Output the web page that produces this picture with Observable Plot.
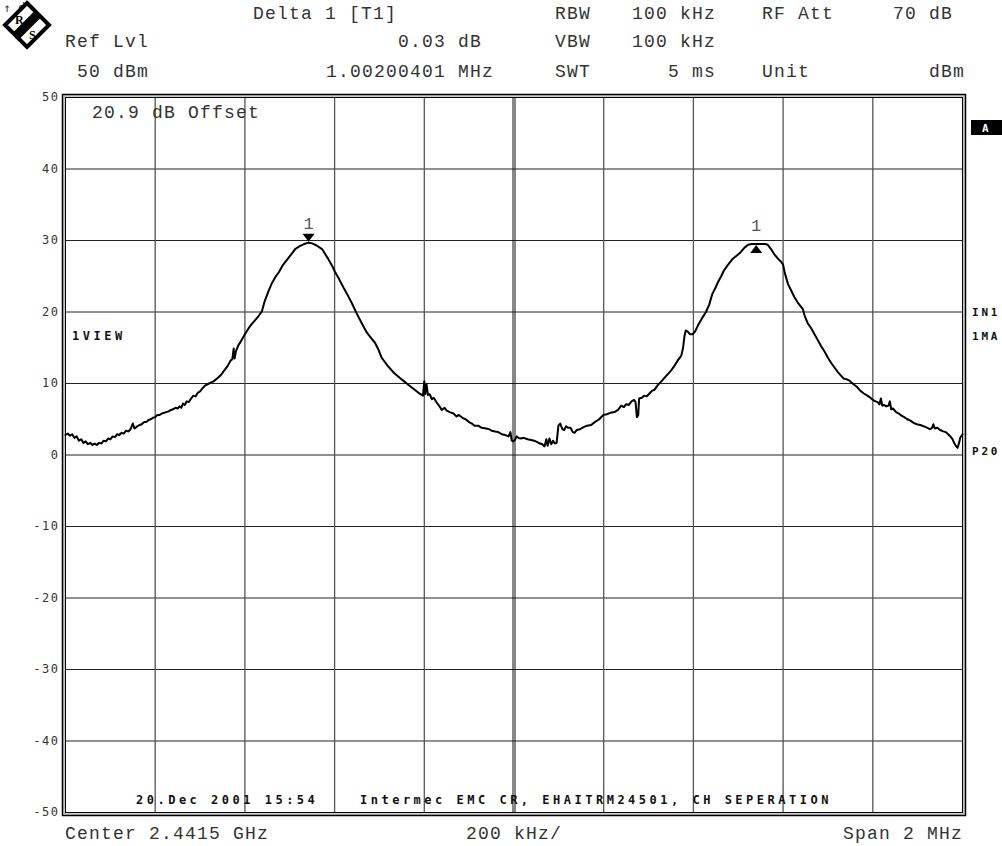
<!DOCTYPE html>
<html><head><meta charset="utf-8">
<script src="https://cdn.jsdelivr.net/npm/d3@7"></script>
<script src="https://cdn.jsdelivr.net/npm/@observablehq/plot@0.6"></script>
<style>
body{margin:0;background:#fff;}
#wrap{position:relative;width:1002px;height:846px;overflow:hidden;background:#fff;}
#chart{position:absolute;left:0;top:0;}
#overlay{position:absolute;left:0;top:0;pointer-events:none;}
.hdr{font-family:"Liberation Mono",monospace;font-size:18px;letter-spacing:1.2px;fill:#333;}
.bm{font-family:"DejaVu Sans Mono",monospace;font-weight:bold;font-size:12px;letter-spacing:3.5px;fill:#111;}
.bs{font-family:"DejaVu Sans Mono",monospace;font-weight:bold;font-size:11px;letter-spacing:2.8px;fill:#111;}
.lgt{font-family:"Liberation Serif",serif;font-weight:bold;font-size:12px;fill:#000;}
#chart [aria-label="y-axis tick label"] text{letter-spacing:1.5px}
</style></head><body><div id="wrap"><div id="chart"></div><svg id="overlay" width="1002" height="846"></svg></div>
<script>
// ---- data ----
const spanKHz = [-1000, 1000];           // center 2.4415 GHz, span 2 MHz
const xGridKHz = [-800, -600, -400, -200, 0, 200, 400, 600, 800];
const yTicks = [-50, -40, -30, -20, -10, 0, 10, 20, 30, 40, 50];
// trace: [offset from center (kHz), level (dBm)]
const trace = [
[-1000,2.8],[-995,3.0],[-990,2.7],[-985,2.9],[-980,2.4],[-975,2.6],[-970,2.0],[-965,2.2],[-960,1.7],[-955,1.9],
[-950,1.5],[-945,1.7],[-940,1.4],[-935,1.6],[-930,1.4],[-925,1.7],[-920,1.6],[-915,2.0],[-910,1.9],[-905,2.3],
[-900,2.2],[-895,2.6],[-890,2.5],[-885,2.9],[-880,2.8],[-875,3.1],[-870,3.0],[-865,3.4],[-860,3.3],[-855,3.6],
[-850,4.4],[-846,3.7],[-840,4.0],[-835,4.2],[-830,4.3],[-825,4.6],[-820,4.6],[-815,4.9],[-810,5.0],[-805,5.2],
[-800,5.3],[-795,5.6],[-790,5.6],[-785,5.8],[-780,5.9],[-775,6.0],[-770,6.1],[-765,6.3],[-760,6.4],[-755,6.6],
[-750,6.5],[-746,6.8],[-742,6.6],[-738,7.2],[-734,7.0],[-730,7.5],[-725,7.4],[-720,7.9],[-715,8.3],[-710,8.2],
[-705,8.7],[-700,8.9],[-695,9.3],[-689,9.7],[-680,10.0],[-670,10.3],[-660,10.8],[-652,11.3],[-645,11.9],[-638,12.5],
[-632,13.2],[-628,13.4],[-625,14.9],[-623,13.5],[-620,14.5],[-615,15.3],[-608,16.0],[-600,16.9],[-592,17.7],[-585,18.3],
[-578,18.8],[-570,19.4],[-562,20.1],[-556,21.5],[-548,22.8],[-540,24.0],[-532,24.9],[-524,25.6],[-515,26.6],[-505,27.4],
[-495,28.2],[-488,28.8],[-478,29.2],[-468,29.5],[-458,29.7],[-450,29.6],[-440,29.3],[-428,28.8],[-415,27.5],[-405,26.4],
[-399,25.6],[-390,24.6],[-380,23.4],[-372,22.5],[-362,21.3],[-350,19.7],[-340,18.5],[-328,17.1],[-318,16.3],[-310,15.7],
[-302,14.7],[-295,13.6],[-282,12.5],[-268,11.5],[-255,10.8],[-245,10.3],[-235,9.8],[-225,9.3],[-213,8.7],[-203,8.3],
[-200,10.3],[-198,8.5],[-195,9.9],[-192,8.4],[-188,8.5],[-183,7.8],[-179,8.0],[-172,7.3],[-166,6.8],[-161,6.3],
[-155,6.6],[-150,6.2],[-143,6.0],[-135,5.8],[-128,5.4],[-123,5.6],[-115,5.2],[-108,5.0],[-100,4.6],[-94,4.4],
[-88,4.1],[-80,4.1],[-72,3.8],[-62,3.7],[-55,3.6],[-50,3.4],[-42,3.3],[-35,3.2],[-27,2.9],[-20,2.8],
[-12,2.6],[-8,3.2],[-5,2.0],[-2,1.9],[2,2.1],[6,2.6],[10,2.4],[15,2.3],[22,2.4],[30,2.2],
[38,2.1],[45,2.0],[52,1.8],[58,1.6],[63,1.5],[68,1.2],[72,2.2],[75,1.3],[79,2.3],[83,1.5],
[87,2.0],[91,1.6],[95,1.7],[99,4.1],[103,4.4],[108,3.6],[112,3.5],[116,4.0],[121,3.8],[126,3.8],
[131,3.2],[135,3.1],[140,3.5],[147,3.6],[155,3.9],[163,4.1],[172,4.2],[180,4.6],[190,5.0],[199,5.6],
[207,5.7],[215,5.9],[224,6.0],[232,6.3],[239,6.9],[245,6.7],[250,7.1],[256,7.0],[262,7.5],[268,7.7],
[271,7.4],[274,5.3],[277,5.6],[279,7.9],[285,8.0],[290,8.3],[296,8.2],[302,8.6],[308,9.0],[313,9.1],
[321,9.8],[330,10.4],[340,11.1],[350,11.8],[358,12.5],[366,13.3],[373,13.9],[377,15.0],[380,16.6],[383,17.4],
[387,17.3],[392,16.9],[398,16.9],[403,17.2],[410,18.1],[418,19.0],[428,20.0],[435,21.0],[442,22.5],[450,23.5],
[455,24.2],[462,25.0],[468,25.8],[477,26.6],[487,27.4],[497,27.9],[506,28.4],[514,29.0],[522,29.4],[530,29.5],
[545,29.5],[560,29.5],[566,29.4],[573,28.8],[580,28.1],[588,27.5],[596,27.0],[600,26.6],[604,25.4],[611,23.9],
[618,23.0],[625,22.1],[634,21.2],[644,20.4],[648,19.5],[655,18.4],[662,17.8],[670,16.9],[677,16.1],[684,15.3],
[692,14.5],[700,13.6],[708,12.8],[715,12.2],[722,11.6],[729,11.1],[735,10.7],[741,10.6],[748,10.4],[757,9.9],
[765,9.5],[772,9.0],[780,8.6],[788,8.3],[795,8.0],[800,7.7],[806,7.5],[811,7.4],[815,7.1],[818,7.9],
[821,6.9],[825,7.0],[830,6.8],[835,6.9],[838,7.5],[841,6.4],[845,6.5],[852,6.0],[858,5.8],[864,5.5],
[870,5.3],[877,5.0],[884,4.8],[891,4.5],[898,4.3],[906,4.2],[914,4.0],[922,3.8],[928,3.6],[932,3.8],
[935,4.3],[938,3.7],[944,3.8],[950,3.5],[957,3.3],[963,3.2],[968,2.9],[973,2.6],[978,2.2],[982,1.6],
[986,1.2],[989,1.0],[992,1.6],[995,2.4],[1000,2.9]
];
const markerKHz = [-458, 540];
const markerDb = [29.7, 29.5];
const markerDir = ["down", "up"];
const markerLabel = ["1", "1"];

// ---- build ----
const traceRows = trace.map(([f, db]) => ({f, db}));
const markers = markerKHz.map((f, i) => ({f, db: markerDb[i], dir: markerDir[i], label: markerLabel[i]}));
const triDown = {draw(ctx){ ctx.moveTo(-6,-4); ctx.lineTo(6,-4); ctx.lineTo(0,4); ctx.closePath(); }};
const triUp = {draw(ctx){ ctx.moveTo(-6,4); ctx.lineTo(6,4); ctx.lineTo(0,-4); ctx.closePath(); }};

const plot = Plot.plot({
  width: 1002, height: 846,
  marginLeft: 65, marginRight: 40, marginTop: 97, marginBottom: 34,
  style: {background: "#fff", fontFamily: "DejaVu Sans Mono"},
  x: {domain: spanKHz, axis: null},
  y: {domain: [yTicks[0], yTicks[yTicks.length - 1]], axis: null},
  marks: [
    Plot.ruleY(yTicks, {stroke: "#222", strokeWidth: 1}),
    Plot.ruleX(xGridKHz.filter(d => d !== 0), {stroke: "#555", strokeWidth: 1.3}),
    Plot.ruleX([0], {stroke: "#111", strokeWidth: 1, dx: -1}),
    Plot.ruleX([0], {stroke: "#111", strokeWidth: 1, dx: 1}),
    Plot.frame({stroke: "#000", strokeWidth: 1}),
    Plot.frame({stroke: "#999", strokeWidth: 1, inset: -1.5}),
    Plot.frame({stroke: "#000", strokeWidth: 1.5, inset: -3}),
    Plot.axisY(yTicks, {tickSize: 0, tickPadding: 6, fontSize: 12, fill: "#333",
      fontFamily: "DejaVu Sans Mono", tickFormat: d => String(d)}),
    Plot.line(traceRows, {x: "f", y: "db", stroke: "#000", strokeWidth: 2}),
    Plot.dot(markers.filter(d => d.dir === "down"), {x: "f", y: "db", symbol: triDown, fill: "#000", stroke: "none", dy: -5}),
    Plot.dot(markers.filter(d => d.dir === "up"), {x: "f", y: "db", symbol: triUp, fill: "#000", stroke: "none", dy: 5}),
    Plot.text(markers, {x: "f", y: "db", text: "label", dy: -19, fontSize: 17,
      fontFamily: "Liberation Mono", fill: "#555", lineAnchor: "middle"})
  ]
});
document.getElementById("chart").appendChild(plot);

// ---- annotations (instrument screen texts) ----
const ov = d3.select("#overlay");
const hdr = [
  ["Delta 1 [T1]", 253, 19], ["RBW", 555, 19], ["100 kHz", 632, 19], ["RF Att", 762, 19], ["70 dB", 893, 19],
  ["Ref Lvl", 65, 47], ["0.03 dB", 398, 47], ["VBW", 555, 47], ["100 kHz", 632, 47],
  ["50 dBm", 77, 77], ["1.00200401 MHz", 326, 77], ["SWT", 555, 77], ["5 ms", 668, 77], ["Unit", 762, 77], ["dBm", 929, 77],
  ["20.9 dB Offset", 92, 118],
  ["Center 2.4415 GHz", 65, 839], ["200 kHz/", 466, 839], ["Span 2 MHz", 843, 839]
];
hdr.forEach(([t, x, y]) => ov.append("text").attr("class", "hdr").attr("x", x).attr("y", y).text(t));
const bm = [["20.Dec 2001 15:54", 136, 804], ["Intermec EMC CR, EHAITRM24501, CH SEPERATION", 360, 804], ["1VIEW", 72, 340]];
bm.forEach(([t, x, y]) => ov.append("text").attr("class", "bm").attr("x", x).attr("y", y).text(t));
const bs = [["IN1", 972, 316], ["1MA", 972, 340], ["P20", 972, 455]];
bs.forEach(([t, x, y]) => ov.append("text").attr("class", "bs").attr("x", x).attr("y", y).text(t));
ov.append("rect").attr("x", 971).attr("y", 120).attr("width", 31).attr("height", 15).attr("fill", "#000");
ov.append("text").attr("class", "bs").attr("x", 982).attr("y", 132).style("fill", "#fff").text("A");
// R&S logo
const lg = ov.append("g");
lg.append("polygon").attr("points", "27,3 49,25 27,47 5,25").attr("fill", "#fff").attr("stroke", "#000").attr("stroke-width", 4).attr("stroke-linejoin", "miter");
lg.append("polygon").attr("points", "12.8,32.8 34.8,10.8 41.2,17.2 19.2,39.2").attr("fill", "#000");
lg.append("text").attr("class", "lgt").attr("x", 15).attr("y", 24).text("R");
lg.append("text").attr("class", "lgt").attr("x", 29).attr("y", 39).text("S");
</script></body></html>
